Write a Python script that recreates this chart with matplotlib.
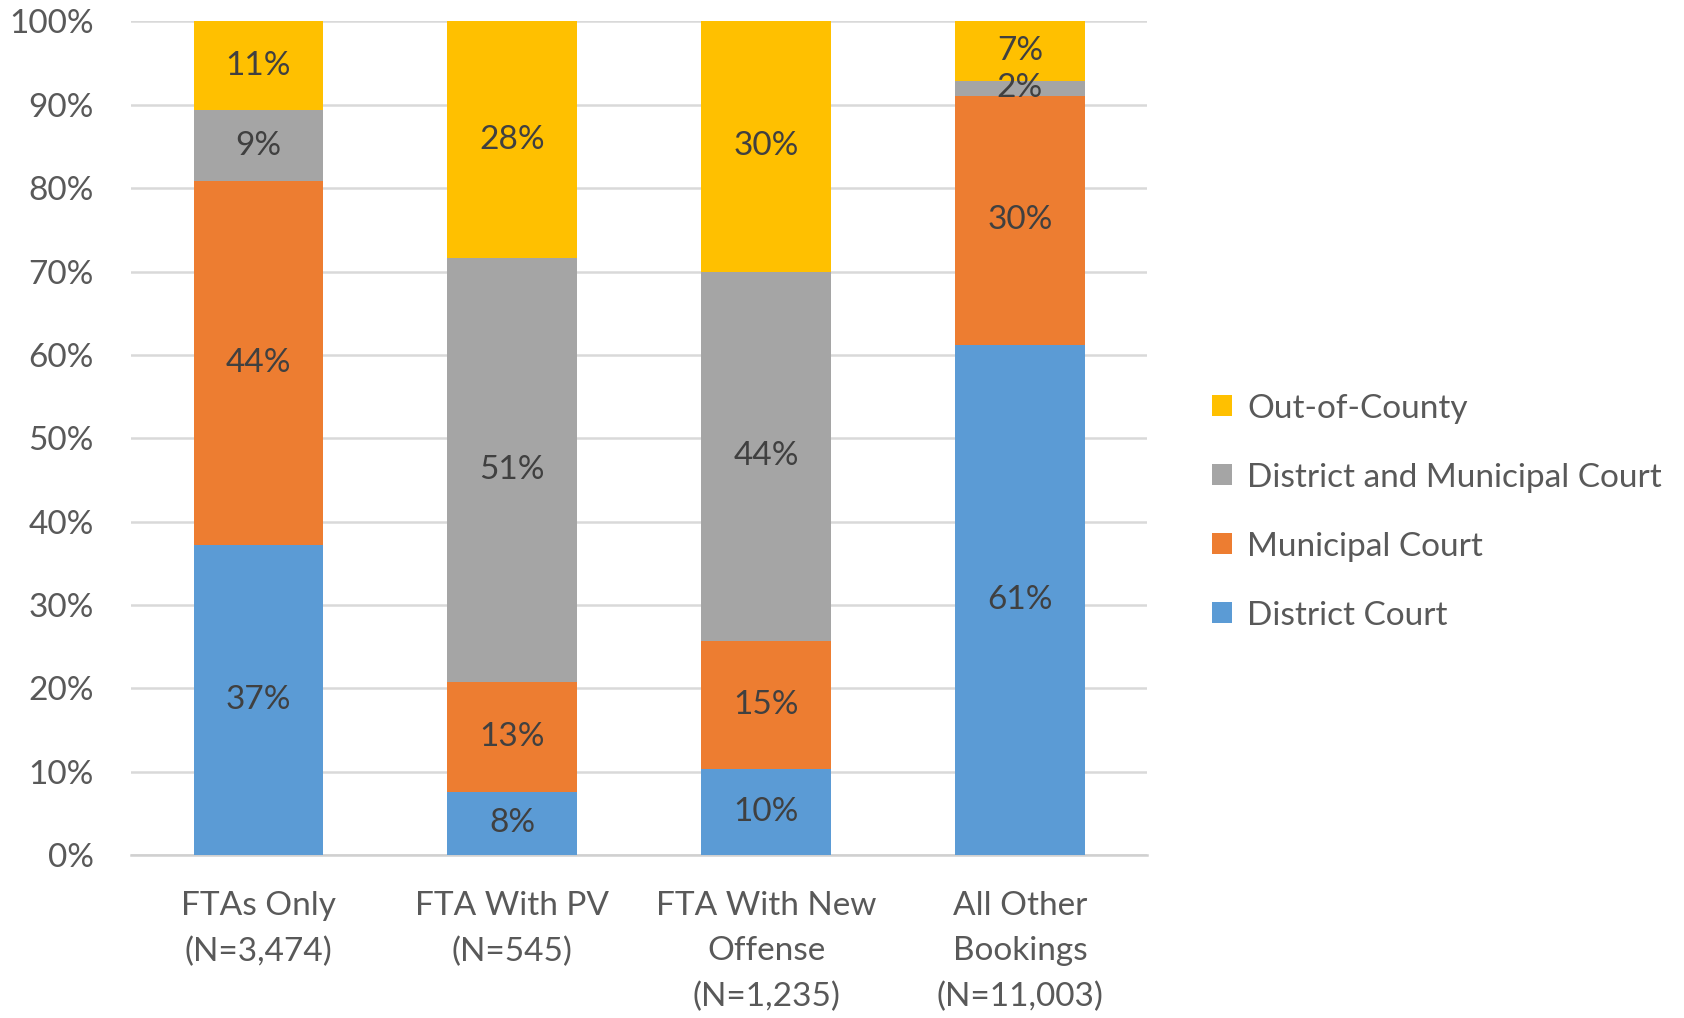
import matplotlib
matplotlib.use("Agg")
import matplotlib.pyplot as plt
from matplotlib import font_manager
from matplotlib.patches import Patch
import numpy as np

# ---- data (percent of bookings) ----
categories = ["FTAs Only\n(N=3,474)", "FTA With PV\n(N=545)",
              "FTA With New\nOffense\n(N=1,235)", "All Other\nBookings\n(N=11,003)"]
series_names = ["District Court", "Municipal Court",
                "District and Municipal Court", "Out-of-County"]
district = [37.2, 7.6, 10.3, 61.2]
municipal = [43.6, 13.2, 15.4, 29.9]
both = [8.6, 50.8, 44.3, 1.8]
out_county = [10.6, 28.4, 30.0, 7.1]

colors = ["#5B9BD5", "#ED7D31", "#A5A5A5", "#FFC000"]
text_color = "#595959"
label_color = "#404040"

names = {f.name for f in font_manager.fontManager.ttflist}
base_font = "Lato" if "Lato" in names else "DejaVu Sans"
plt.rcParams["font.family"] = [base_font, "DejaVu Sans"]

fig = plt.figure(figsize=(16.84, 10.18), dpi=100)
ax = fig.add_axes([0.078, 0.160, 0.603, 0.819])

x = np.arange(len(categories))
width = 0.51
bottom = np.zeros(len(categories))
for name, vals, col in zip(series_names, [district, municipal, both, out_county], colors):
    vals = np.array(vals)
    ax.bar(x, vals, width, bottom=bottom, color=col, zorder=3, label=name)
    for xi, b, v in zip(x, bottom, vals):
        ax.text(xi, b + v / 2, f"{v:.0f}%", ha="center", va="center",
                fontsize=24, color=label_color, zorder=4)
    bottom += vals

ax.set_xlim(-0.5, len(categories) - 0.5)
ax.set_ylim(0, 100)
ax.set_yticks(np.arange(0, 101, 10))
ax.set_yticklabels([f"{t}%" for t in range(0, 101, 10)], fontsize=24, color=text_color)
ax.set_xticks(x)
ax.set_xticklabels(categories, fontsize=24, color=text_color, linespacing=1.62)
ax.tick_params(axis="both", length=0)
ax.tick_params(axis="x", pad=26)
ax.tick_params(axis="y", pad=27)
ax.yaxis.grid(True, color="#d9d9d9", linewidth=1.8, zorder=0)
for s in ["top", "right", "left"]:
    ax.spines[s].set_visible(False)
ax.spines["bottom"].set_color("#d0d0d0")
ax.spines["bottom"].set_linewidth(1.8)

handles = [Patch(facecolor=c) for c in colors[::-1]]
fig.legend(handles, series_names[::-1], loc="center left",
           bbox_to_anchor=(0.720, 0.497), frameon=False, fontsize=24,
           labelcolor=text_color, handlelength=0.6, handleheight=0.6,
           handletextpad=0.45, labelspacing=1.17, borderpad=0, borderaxespad=0)

fig.savefig("out.png", dpi=100)
